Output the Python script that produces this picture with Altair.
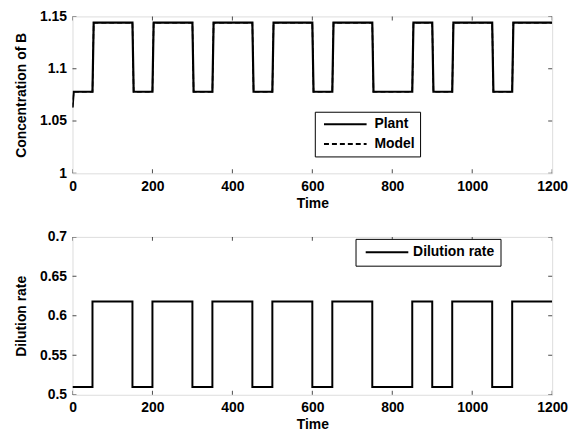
import altair as alt
import pandas as pd

# ---------------- data ----------------
time_ticks = [0, 200, 400, 600, 800, 1000, 1200]
conc_ticks = [1.0, 1.05, 1.1, 1.15]
dil_ticks = [0.5, 0.55, 0.6, 0.65, 0.7]

plant_time = [0, 3, 50, 53, 150, 153, 200, 203, 300, 303, 350, 353, 450, 453,
              500, 503, 600, 603, 650, 653, 750, 753, 850, 853, 900, 903, 950,
              953, 1050, 1053, 1100, 1103, 1200]
plant_conc = [1.063, 1.078, 1.078, 1.144, 1.144, 1.078, 1.078, 1.144, 1.144,
              1.078, 1.078, 1.144, 1.144, 1.078, 1.078, 1.144, 1.144, 1.078,
              1.078, 1.144, 1.144, 1.078, 1.078, 1.144, 1.144, 1.078, 1.078,
              1.144, 1.144, 1.078, 1.078, 1.144, 1.144]
model_time = [0, 3, 50, 53, 150, 153, 200, 203, 300, 303, 350, 353, 450, 453,
              500, 503, 600, 603, 650, 653, 750, 753, 850, 853, 900, 903, 950,
              953, 1050, 1053, 1100, 1103, 1200]
model_conc = [1.063, 1.078, 1.078, 1.144, 1.144, 1.078, 1.078, 1.144, 1.144,
              1.078, 1.078, 1.144, 1.144, 1.078, 1.078, 1.144, 1.144, 1.078,
              1.078, 1.144, 1.144, 1.078, 1.078, 1.144, 1.144, 1.078, 1.078,
              1.144, 1.144, 1.078, 1.078, 1.144, 1.144]

dil_time = [0, 50, 50, 150, 150, 200, 200, 300, 300, 350, 350, 450, 450, 500,
            500, 600, 600, 650, 650, 750, 750, 850, 850, 900, 900, 950, 950,
            1050, 1050, 1100, 1100, 1200]
dil_rate = [0.51, 0.51, 0.618, 0.618, 0.51, 0.51, 0.618, 0.618, 0.51, 0.51,
            0.618, 0.618, 0.51, 0.51, 0.618, 0.618, 0.51, 0.51, 0.618, 0.618,
            0.51, 0.51, 0.618, 0.618, 0.51, 0.51, 0.618, 0.618, 0.51, 0.51,
            0.618, 0.618]

# ---------------- tables ----------------
plant_df = pd.DataFrame({"t": plant_time, "v": plant_conc, "series": "Plant"})
model_df = pd.DataFrame({"t": model_time, "v": model_conc, "series": "Model"})
dil_df = pd.DataFrame({"t": dil_time, "v": dil_rate, "series": "Dilution rate"})
xt_df = pd.DataFrame({"t": time_ticks})
ct_df = pd.DataFrame({"v": conc_ticks})
dt_df = pd.DataFrame({"v": dil_ticks})

W, H = 483, 158
FONT = "Liberation Sans"
FS = 14


def axis_x():
    return alt.Axis(values=time_ticks, tickCount=20, ticks=False, domain=False,
                    grid=False, format="d", labelOverlap=False,
                    labelFont=FONT, labelFontSize=FS, labelFontWeight="bold",
                    labelColor="black", labelPadding=6, titleFont=FONT,
                    titleFontSize=FS, titleFontWeight="bold", titleColor="black",
                    titlePadding=3, labelFlush=False)


def axis_y(vals, h):
    return alt.Axis(values=vals, tickCount=20, ticks=False, domain=False,
                    grid=False, format="~g", labelOverlap=False, labelFont=FONT,
                    labelFontSize=FS, labelFontWeight="bold",
                    labelColor="black", labelPadding=6,
                    titleFont=FONT, titleFontSize=FS, titleFontWeight="bold",
                    titleColor="black", titleX=-51, titleY=h / 2,
                    titleBaseline="middle", labelFlush=False)


def tick_layers(ydom, yticks_df):
    xs = alt.Scale(domain=[0, 1200], nice=False, zero=False)
    ys = alt.Scale(domain=ydom, nice=False, zero=False)
    bot = alt.Chart(xt_df).mark_tick(orient="vertical", size=8, thickness=1,
                                     color="black", clip=True).encode(
        x=alt.X("t:Q", scale=xs), y=alt.datum(ydom[0]))
    top = alt.Chart(xt_df).mark_tick(orient="vertical", size=8, thickness=1,
                                     color="black", clip=True).encode(
        x=alt.X("t:Q", scale=xs), y=alt.datum(ydom[1]))
    left = alt.Chart(yticks_df).mark_tick(orient="horizontal", size=8,
                                          thickness=1, color="black",
                                          clip=True).encode(
        x=alt.datum(0), y=alt.Y("v:Q", scale=ys))
    right = alt.Chart(yticks_df).mark_tick(orient="horizontal", size=8,
                                           thickness=1, color="black",
                                           clip=True).encode(
        x=alt.datum(1200), y=alt.Y("v:Q", scale=ys))
    return [bot, top, left, right]


leg_top = alt.Legend(orient="none", legendX=244, legendY=96, title=None,
                     strokeColor="black", fillColor="white", padding=5,
                     cornerRadius=0, symbolType="M-0.5,0H6.1", symbolSize=169,
                     symbolStrokeWidth=2, symbolFillColor="transparent",
                     labelFont=FONT, labelFontSize=FS, labelFontWeight="bold",
                     labelColor="black", labelOffset=40, rowPadding=5)

SERIES = ["Plant", "Model"]


def conc_layer(df, width):
    return alt.Chart(df).mark_line(strokeWidth=width, clip=True).encode(
        x=alt.X("t:Q", title="Time", axis=axis_x(),
                scale=alt.Scale(domain=[0, 1200], nice=False, zero=False)),
        y=alt.Y("v:Q", title="Concentration of B", axis=axis_y(conc_ticks, H),
                scale=alt.Scale(domain=[1.0, 1.15], nice=False, zero=False)),
        color=alt.Color("series:N", sort=SERIES, legend=leg_top,
                        scale=alt.Scale(domain=SERIES,
                                        range=["black", "black"])),
        strokeDash=alt.StrokeDash("series:N", sort=SERIES, legend=leg_top,
                                  scale=alt.Scale(domain=SERIES,
                                                  range=[[1, 0], [5, 3]])),
    )


# the model curve sits under the (slightly wider) plant curve
top = alt.layer(conc_layer(model_df, 1.5), conc_layer(plant_df, 2.2),
                *tick_layers([1.0, 1.15], ct_df)).properties(width=W, height=H)

leg_bot = alt.Legend(orient="none", legendX=285, legendY=2, title=None,
                     strokeColor="black", fillColor="white", padding=6,
                     cornerRadius=0, symbolType="M-0.5,0H6.1", symbolSize=169,
                     symbolStrokeWidth=2, symbolFillColor="transparent",
                     labelFont=FONT, labelFontSize=FS, labelFontWeight="bold",
                     labelColor="black", labelOffset=37)

bot_lines = alt.Chart(dil_df).mark_line(strokeWidth=2, clip=True).encode(
    x=alt.X("t:Q", title="Time", axis=axis_x(),
            scale=alt.Scale(domain=[0, 1200], nice=False, zero=False)),
    y=alt.Y("v:Q", title="Dilution rate", axis=axis_y(dil_ticks, 159),
            scale=alt.Scale(domain=[0.5, 0.7], nice=False, zero=False)),
    color=alt.Color("series:N", legend=leg_bot,
                    scale=alt.Scale(domain=["Dilution rate"], range=["black"])),
)

bottom = alt.layer(bot_lines, *tick_layers([0.5, 0.7], dt_df)).properties(
    width=W, height=159)

chart = alt.vconcat(top, bottom, spacing=64, bounds="flush").resolve_scale(
    color="independent", strokeDash="independent"
).resolve_legend(color="independent", strokeDash="independent").properties(
    padding={"left": 14, "top": 7, "right": 5, "bottom": 5}
).configure_view(stroke="black", strokeWidth=1).configure(background="white")

chart.save("out.html", embed_options={"renderer": "svg", "actions": False})
